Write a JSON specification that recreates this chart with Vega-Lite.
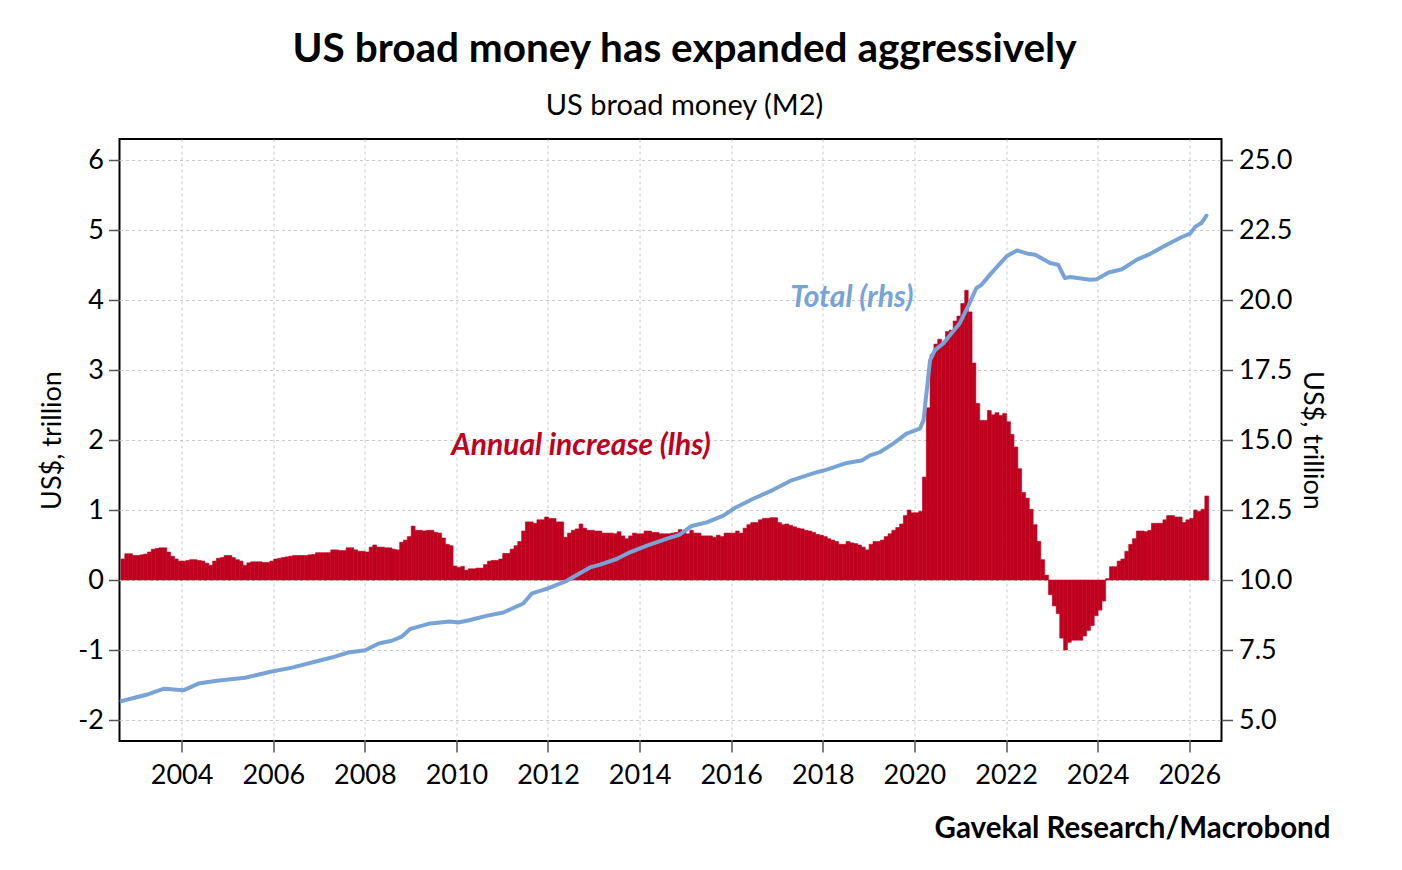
{
  "$schema": "https://vega.github.io/schema/vega-lite/v6.json",
  "width": 1102,
  "height": 602,
  "autosize": "none",
  "padding": {"left": 119.5, "top": 139, "right": 180.5, "bottom": 129},
  "background": "white",
  "title": {
    "text": "US broad money has expanded aggressively",
    "subtitle": "US broad money (M2)",
    "font": "Lato", "fontSize": 40.5, "fontWeight": "bold", "color": "black",
    "subtitleFont": "Lato", "subtitleFontSize": 29, "subtitleColor": "black",
    "anchor": "middle", "dx": 14, "offset": 18, "subtitlePadding": 22
  },
  "config": {
    "view": {"stroke": "black", "strokeWidth": 2},
    "axis": {
      "labelFont": "Lato", "labelFontSize": 27, "labelColor": "black",
      "titleFont": "Lato", "titleFontSize": 27, "titleFontWeight": "normal", "titleColor": "black",
      "domain": false, "tickColor": "#555555", "tickSize": 11, "tickWidth": 1.5,
      "gridColor": "#c8c8c8", "gridDash": [3, 3], "gridWidth": 1
    }
  },
  "layer": [
    {
      "layer": [
        {
          "data": {"values": [
            {"d":"2002-09-01","inc":0.30},{"d":"2002-10-01","inc":0.375},{"d":"2002-11-01","inc":0.375},{"d":"2002-12-01","inc":0.35},
            {"d":"2003-01-01","inc":0.35},{"d":"2003-02-01","inc":0.36},{"d":"2003-03-01","inc":0.37},{"d":"2003-04-01","inc":0.40},{"d":"2003-05-01","inc":0.44},{"d":"2003-06-01","inc":0.45},{"d":"2003-07-01","inc":0.46},{"d":"2003-08-01","inc":0.46},{"d":"2003-09-01","inc":0.40},{"d":"2003-10-01","inc":0.34},{"d":"2003-11-01","inc":0.30},{"d":"2003-12-01","inc":0.27},
            {"d":"2004-01-01","inc":0.27},{"d":"2004-02-01","inc":0.28},{"d":"2004-03-01","inc":0.29},{"d":"2004-04-01","inc":0.29},{"d":"2004-05-01","inc":0.28},{"d":"2004-06-01","inc":0.27},{"d":"2004-07-01","inc":0.24},{"d":"2004-08-01","inc":0.21},{"d":"2004-09-01","inc":0.27},{"d":"2004-10-01","inc":0.31},{"d":"2004-11-01","inc":0.32},{"d":"2004-12-01","inc":0.35},
            {"d":"2005-01-01","inc":0.35},{"d":"2005-02-01","inc":0.32},{"d":"2005-03-01","inc":0.29},{"d":"2005-04-01","inc":0.27},{"d":"2005-05-01","inc":0.21},{"d":"2005-06-01","inc":0.245},{"d":"2005-07-01","inc":0.26},{"d":"2005-08-01","inc":0.26},{"d":"2005-09-01","inc":0.26},{"d":"2005-10-01","inc":0.25},{"d":"2005-11-01","inc":0.25},{"d":"2005-12-01","inc":0.27},
            {"d":"2006-01-01","inc":0.30},{"d":"2006-02-01","inc":0.31},{"d":"2006-03-01","inc":0.32},{"d":"2006-04-01","inc":0.33},{"d":"2006-05-01","inc":0.34},{"d":"2006-06-01","inc":0.35},{"d":"2006-07-01","inc":0.35},{"d":"2006-08-01","inc":0.35},{"d":"2006-09-01","inc":0.35},{"d":"2006-10-01","inc":0.36},{"d":"2006-11-01","inc":0.365},{"d":"2006-12-01","inc":0.39},
            {"d":"2007-01-01","inc":0.39},{"d":"2007-02-01","inc":0.39},{"d":"2007-03-01","inc":0.39},{"d":"2007-04-01","inc":0.43},{"d":"2007-05-01","inc":0.43},{"d":"2007-06-01","inc":0.42},{"d":"2007-07-01","inc":0.42},{"d":"2007-08-01","inc":0.46},{"d":"2007-09-01","inc":0.46},{"d":"2007-10-01","inc":0.43},{"d":"2007-11-01","inc":0.41},{"d":"2007-12-01","inc":0.41},
            {"d":"2008-01-01","inc":0.40},{"d":"2008-02-01","inc":0.47},{"d":"2008-03-01","inc":0.50},{"d":"2008-04-01","inc":0.47},{"d":"2008-05-01","inc":0.47},{"d":"2008-06-01","inc":0.46},{"d":"2008-07-01","inc":0.46},{"d":"2008-08-01","inc":0.44},{"d":"2008-09-01","inc":0.43},{"d":"2008-10-01","inc":0.54},{"d":"2008-11-01","inc":0.57},{"d":"2008-12-01","inc":0.62},
            {"d":"2009-01-01","inc":0.77},{"d":"2009-02-01","inc":0.71},{"d":"2009-03-01","inc":0.71},{"d":"2009-04-01","inc":0.70},{"d":"2009-05-01","inc":0.71},{"d":"2009-06-01","inc":0.71},{"d":"2009-07-01","inc":0.68},{"d":"2009-08-01","inc":0.67},{"d":"2009-09-01","inc":0.60},{"d":"2009-10-01","inc":0.51},{"d":"2009-11-01","inc":0.49},{"d":"2009-12-01","inc":0.20},
            {"d":"2010-01-01","inc":0.18},{"d":"2010-02-01","inc":0.195},{"d":"2010-03-01","inc":0.14},{"d":"2010-04-01","inc":0.16},{"d":"2010-05-01","inc":0.16},{"d":"2010-06-01","inc":0.17},{"d":"2010-07-01","inc":0.17},{"d":"2010-08-01","inc":0.22},{"d":"2010-09-01","inc":0.27},{"d":"2010-10-01","inc":0.28},{"d":"2010-11-01","inc":0.28},{"d":"2010-12-01","inc":0.30},
            {"d":"2011-01-01","inc":0.38},{"d":"2011-02-01","inc":0.38},{"d":"2011-03-01","inc":0.44},{"d":"2011-04-01","inc":0.49},{"d":"2011-05-01","inc":0.55},{"d":"2011-06-01","inc":0.70},{"d":"2011-07-01","inc":0.83},{"d":"2011-08-01","inc":0.83},{"d":"2011-09-01","inc":0.81},{"d":"2011-10-01","inc":0.86},{"d":"2011-11-01","inc":0.86},{"d":"2011-12-01","inc":0.90},
            {"d":"2012-01-01","inc":0.88},{"d":"2012-02-01","inc":0.88},{"d":"2012-03-01","inc":0.83},{"d":"2012-04-01","inc":0.83},{"d":"2012-05-01","inc":0.61},{"d":"2012-06-01","inc":0.67},{"d":"2012-07-01","inc":0.71},{"d":"2012-08-01","inc":0.73},{"d":"2012-09-01","inc":0.80},{"d":"2012-10-01","inc":0.74},{"d":"2012-11-01","inc":0.71},{"d":"2012-12-01","inc":0.71},
            {"d":"2013-01-01","inc":0.70},{"d":"2013-02-01","inc":0.70},{"d":"2013-03-01","inc":0.67},{"d":"2013-04-01","inc":0.67},{"d":"2013-05-01","inc":0.67},{"d":"2013-06-01","inc":0.66},{"d":"2013-07-01","inc":0.69},{"d":"2013-08-01","inc":0.63},{"d":"2013-09-01","inc":0.59},{"d":"2013-10-01","inc":0.63},{"d":"2013-11-01","inc":0.67},{"d":"2013-12-01","inc":0.66},
            {"d":"2014-01-01","inc":0.66},{"d":"2014-02-01","inc":0.70},{"d":"2014-03-01","inc":0.70},{"d":"2014-04-01","inc":0.68},{"d":"2014-05-01","inc":0.68},{"d":"2014-06-01","inc":0.66},{"d":"2014-07-01","inc":0.66},{"d":"2014-08-01","inc":0.66},{"d":"2014-09-01","inc":0.67},{"d":"2014-10-01","inc":0.68},{"d":"2014-11-01","inc":0.72},{"d":"2014-12-01","inc":0.68},
            {"d":"2015-01-01","inc":0.66},{"d":"2015-02-01","inc":0.71},{"d":"2015-03-01","inc":0.67},{"d":"2015-04-01","inc":0.67},{"d":"2015-05-01","inc":0.63},{"d":"2015-06-01","inc":0.63},{"d":"2015-07-01","inc":0.63},{"d":"2015-08-01","inc":0.61},{"d":"2015-09-01","inc":0.64},{"d":"2015-10-01","inc":0.62},{"d":"2015-11-01","inc":0.67},{"d":"2015-12-01","inc":0.67},
            {"d":"2016-01-01","inc":0.67},{"d":"2016-02-01","inc":0.70},{"d":"2016-03-01","inc":0.67},{"d":"2016-04-01","inc":0.74},{"d":"2016-05-01","inc":0.79},{"d":"2016-06-01","inc":0.82},{"d":"2016-07-01","inc":0.82},{"d":"2016-08-01","inc":0.86},{"d":"2016-09-01","inc":0.88},{"d":"2016-10-01","inc":0.88},{"d":"2016-11-01","inc":0.89},{"d":"2016-12-01","inc":0.89},
            {"d":"2017-01-01","inc":0.82},{"d":"2017-02-01","inc":0.79},{"d":"2017-03-01","inc":0.80},{"d":"2017-04-01","inc":0.78},{"d":"2017-05-01","inc":0.76},{"d":"2017-06-01","inc":0.74},{"d":"2017-07-01","inc":0.73},{"d":"2017-08-01","inc":0.71},{"d":"2017-09-01","inc":0.70},{"d":"2017-10-01","inc":0.68},{"d":"2017-11-01","inc":0.65},{"d":"2017-12-01","inc":0.64},
            {"d":"2018-01-01","inc":0.62},{"d":"2018-02-01","inc":0.59},{"d":"2018-03-01","inc":0.57},{"d":"2018-04-01","inc":0.55},{"d":"2018-05-01","inc":0.51},{"d":"2018-06-01","inc":0.51},{"d":"2018-07-01","inc":0.55},{"d":"2018-08-01","inc":0.53},{"d":"2018-09-01","inc":0.52},{"d":"2018-10-01","inc":0.50},{"d":"2018-11-01","inc":0.47},{"d":"2018-12-01","inc":0.43},
            {"d":"2019-01-01","inc":0.51},{"d":"2019-02-01","inc":0.55},{"d":"2019-03-01","inc":0.55},{"d":"2019-04-01","inc":0.57},{"d":"2019-05-01","inc":0.62},{"d":"2019-06-01","inc":0.66},{"d":"2019-07-01","inc":0.71},{"d":"2019-08-01","inc":0.75},{"d":"2019-09-01","inc":0.80},{"d":"2019-10-01","inc":0.92},{"d":"2019-11-01","inc":1.00},{"d":"2019-12-01","inc":0.96},
            {"d":"2020-01-01","inc":0.96},{"d":"2020-02-01","inc":0.98},{"d":"2020-03-01","inc":1.47},{"d":"2020-04-01","inc":2.46},{"d":"2020-05-01","inc":3.22},{"d":"2020-06-01","inc":3.37},{"d":"2020-07-01","inc":3.44},{"d":"2020-08-01","inc":3.37},{"d":"2020-09-01","inc":3.55},{"d":"2020-10-01","inc":3.57},{"d":"2020-11-01","inc":3.70},{"d":"2020-12-01","inc":3.77},
            {"d":"2021-01-01","inc":3.95},{"d":"2021-02-01","inc":4.14},{"d":"2021-03-01","inc":3.83},{"d":"2021-04-01","inc":3.10},{"d":"2021-05-01","inc":2.52},{"d":"2021-06-01","inc":2.28},{"d":"2021-07-01","inc":2.28},{"d":"2021-08-01","inc":2.42},{"d":"2021-09-01","inc":2.36},{"d":"2021-10-01","inc":2.39},{"d":"2021-11-01","inc":2.35},{"d":"2021-12-01","inc":2.38},
            {"d":"2022-01-01","inc":2.26},{"d":"2022-02-01","inc":2.08},{"d":"2022-03-01","inc":1.90},{"d":"2022-04-01","inc":1.59},{"d":"2022-05-01","inc":1.25},{"d":"2022-06-01","inc":1.17},{"d":"2022-07-01","inc":1.01},{"d":"2022-08-01","inc":0.79},{"d":"2022-09-01","inc":0.55},{"d":"2022-10-01","inc":0.29},{"d":"2022-11-01","inc":0.07},{"d":"2022-12-01","inc":-0.21},
            {"d":"2023-01-01","inc":-0.37},{"d":"2023-02-01","inc":-0.48},{"d":"2023-03-01","inc":-0.83},{"d":"2023-04-01","inc":-1.00},{"d":"2023-05-01","inc":-0.89},{"d":"2023-06-01","inc":-0.86},{"d":"2023-07-01","inc":-0.86},{"d":"2023-08-01","inc":-0.86},{"d":"2023-09-01","inc":-0.80},{"d":"2023-10-01","inc":-0.72},{"d":"2023-11-01","inc":-0.65},{"d":"2023-12-01","inc":-0.51},
            {"d":"2024-01-01","inc":-0.43},{"d":"2024-02-01","inc":-0.30},{"d":"2024-03-01","inc":0.02},{"d":"2024-04-01","inc":0.19},{"d":"2024-05-01","inc":0.19},{"d":"2024-06-01","inc":0.27},{"d":"2024-07-01","inc":0.30},{"d":"2024-08-01","inc":0.41},{"d":"2024-09-01","inc":0.51},{"d":"2024-10-01","inc":0.59},{"d":"2024-11-01","inc":0.70},{"d":"2024-12-01","inc":0.70},
            {"d":"2025-01-01","inc":0.69},{"d":"2025-02-01","inc":0.71},{"d":"2025-03-01","inc":0.81},{"d":"2025-04-01","inc":0.81},{"d":"2025-05-01","inc":0.81},{"d":"2025-06-01","inc":0.86},{"d":"2025-07-01","inc":0.92},{"d":"2025-08-01","inc":0.92},{"d":"2025-09-01","inc":0.90},{"d":"2025-10-01","inc":0.90},{"d":"2025-11-01","inc":0.82},{"d":"2025-12-01","inc":0.86},
            {"d":"2026-01-01","inc":0.88},{"d":"2026-02-01","inc":1.00},{"d":"2026-03-01","inc":0.98},{"d":"2026-04-01","inc":1.01},{"d":"2026-05-01","inc":1.20}
          ]},
          "mark": {"type": "bar", "color": "#c0001f", "stroke": "#c0001f", "strokeWidth": 0.6, "binSpacing": 0},
          "encoding": {
            "x": {
              "field": "d", "timeUnit": "utcyearmonth", "type": "temporal",
              "scale": {"type": "utc", "domain": [{"year": 2002, "month": 8, "date": 24, "utc": true}, {"year": 2026, "month": 9, "date": 15, "utc": true}]},
              "axis": {
                "title": "Gavekal Research/Macrobond",
                "values": [{"year":2004,"utc":true},{"year":2006,"utc":true},{"year":2008,"utc":true},{"year":2010,"utc":true},{"year":2012,"utc":true},{"year":2014,"utc":true},{"year":2016,"utc":true},{"year":2018,"utc":true},{"year":2020,"utc":true},{"year":2022,"utc":true},{"year":2024,"utc":true},{"year":2026,"utc":true}],
                "labelExpr": "utcFormat(datum.value, '%Y')", "labelOverlap": false, "labelFlush": false,
                "grid": true, "labelPadding": 10,
                "titleAnchor": "end", "titleAlign": "right", "titleX": 1210.5, "titleY": 96,
                "titleBaseline": "alphabetic", "titleFontWeight": "bold", "titleFontSize": 29.5
              }
            },
            "y": {
              "field": "inc", "type": "quantitative",
              "scale": {"domain": [-2.3, 6.3], "nice": false, "zero": false},
              "axis": {"title": "US$, trillion", "values": [-2, -1, 0, 1, 2, 3, 4, 5, 6], "labelExpr": "'' + datum.value", "grid": true, "labelPadding": 5, "titlePadding": 11}
            }
          }
        },
        {
          "data": {"values": [{"d": "2012-09-20", "inc": 1.91, "label": "Annual increase (lhs)"}]},
          "mark": {"type": "text", "font": "Lato", "fontSize": 30, "fontStyle": "italic", "fontWeight": "bold", "color": "#c0001f"},
          "encoding": {
            "x": {"field": "d", "type": "temporal"},
            "y": {"field": "inc", "type": "quantitative", "title": "US$, trillion"},
            "text": {"field": "label"}
          }
        },
        {
          "data": {"values": [{"d": "2018-08-20", "inc": 4.03, "label": "Total (rhs)"}]},
          "mark": {"type": "text", "font": "Lato", "fontSize": 30, "fontStyle": "italic", "fontWeight": "bold", "color": "#78a3d7"},
          "encoding": {
            "x": {"field": "d", "type": "temporal"},
            "y": {"field": "inc", "type": "quantitative", "title": "US$, trillion"},
            "text": {"field": "label"}
          }
        }
      ]
    },
    {
      "data": {"values": [
        {"d":"2002-09-10","m2":5.68},{"d":"2003-04-12","m2":5.92},{"d":"2003-08-15","m2":6.12},{"d":"2004-01-15","m2":6.06},{"d":"2004-05-15","m2":6.30},{"d":"2004-09-24","m2":6.39},{"d":"2005-01-08","m2":6.45},{"d":"2005-05-22","m2":6.51},{"d":"2005-12-20","m2":6.73},{"d":"2006-05-30","m2":6.87},{"d":"2006-11-28","m2":7.08},{"d":"2007-04-12","m2":7.23},{"d":"2007-08-22","m2":7.41},{"d":"2008-01-05","m2":7.49},{"d":"2008-04-20","m2":7.73},{"d":"2008-08-03","m2":7.83},{"d":"2008-10-23","m2":7.98},{"d":"2008-12-28","m2":8.25},{"d":"2009-02-06","m2":8.30},{"d":"2009-06-05","m2":8.45},{"d":"2009-11-10","m2":8.52},{"d":"2010-01-15","m2":8.48},{"d":"2010-04-20","m2":8.57},{"d":"2010-08-28","m2":8.72},{"d":"2011-01-10","m2":8.84},{"d":"2011-06-18","m2":9.16},{"d":"2011-08-25","m2":9.52},{"d":"2011-12-20","m2":9.68},{"d":"2012-05-30","m2":9.97},{"d":"2012-12-01","m2":10.45},{"d":"2013-02-20","m2":10.55},{"d":"2013-07-01","m2":10.75},{"d":"2013-10-15","m2":10.99},{"d":"2014-02-28","m2":11.23},{"d":"2014-08-03","m2":11.47},{"d":"2014-11-17","m2":11.62},{"d":"2015-02-20","m2":11.93},{"d":"2015-06-20","m2":12.06},{"d":"2015-10-30","m2":12.30},{"d":"2016-02-02","m2":12.58},{"d":"2016-06-25","m2":12.90},{"d":"2016-12-01","m2":13.22},{"d":"2017-04-27","m2":13.56},{"d":"2017-11-15","m2":13.85},{"d":"2018-02-02","m2":13.94},{"d":"2018-07-10","m2":14.18},{"d":"2018-11-07","m2":14.27},{"d":"2019-01-12","m2":14.45},{"d":"2019-04-02","m2":14.57},{"d":"2019-07-16","m2":14.87},{"d":"2019-10-30","m2":15.23},{"d":"2020-02-14","m2":15.41},{"d":"2020-03-14","m2":15.71},{"d":"2020-03-25","m2":16.18},{"d":"2020-05-05","m2":17.85},{"d":"2020-06-13","m2":18.21},{"d":"2020-08-18","m2":18.45},{"d":"2020-10-23","m2":18.81},{"d":"2020-12-28","m2":19.17},{"d":"2021-03-03","m2":19.76},{"d":"2021-05-08","m2":20.42},{"d":"2021-06-18","m2":20.54},{"d":"2021-09-05","m2":20.96},{"d":"2022-01-05","m2":21.56},{"d":"2022-03-28","m2":21.77},{"d":"2022-06-28","m2":21.65},{"d":"2022-08-22","m2":21.62},{"d":"2022-12-17","m2":21.32},{"d":"2023-02-20","m2":21.26},{"d":"2023-04-15","m2":20.78},{"d":"2023-05-27","m2":20.82},{"d":"2023-11-03","m2":20.72},{"d":"2023-12-25","m2":20.74},{"d":"2024-03-28","m2":20.98},{"d":"2024-07-13","m2":21.10},{"d":"2024-11-10","m2":21.44},{"d":"2025-02-24","m2":21.65},{"d":"2025-07-05","m2":21.97},{"d":"2025-11-03","m2":22.25},{"d":"2026-01-08","m2":22.37},{"d":"2026-02-17","m2":22.61},{"d":"2026-04-08","m2":22.75},{"d":"2026-05-18","m2":23.01}
      ]},
      "mark": {"type": "line", "color": "#78a3d7", "strokeWidth": 4, "strokeJoin": "round", "strokeCap": "round"},
      "encoding": {
        "x": {"field": "d", "type": "temporal", "scale": {"type": "utc"}},
        "y": {
          "field": "m2", "type": "quantitative",
          "scale": {"domain": [4.25, 25.75], "nice": false, "zero": false},
          "axis": {"orient": "right", "title": "US$, trillion", "values": [5, 7.5, 10, 12.5, 15, 17.5, 20, 22.5, 25], "format": ".1f", "grid": false, "labelPadding": 6, "titlePadding": 6}
        }
      }
    }
  ],
  "resolve": {"scale": {"y": "independent"}}
}
